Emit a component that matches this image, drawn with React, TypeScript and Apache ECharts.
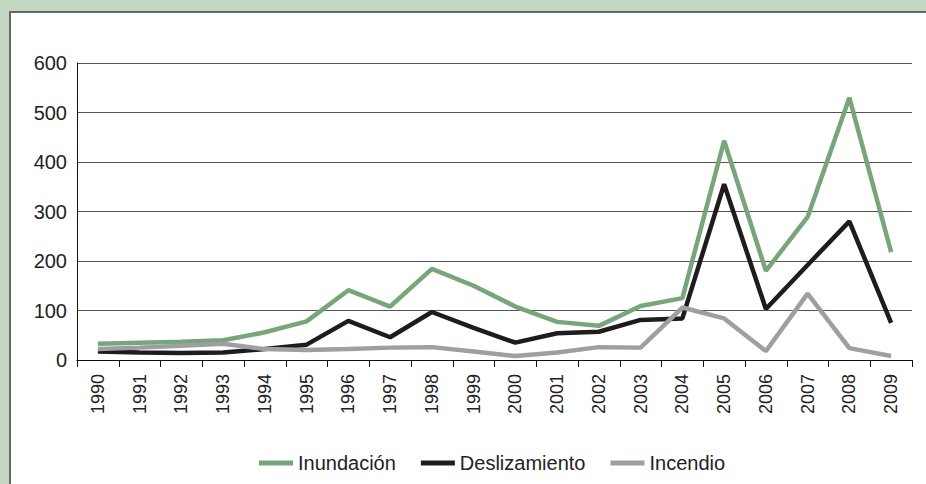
import React, { useEffect, useRef } from "react";
import * as echarts from "echarts";

const years = ["1990","1991","1992","1993","1994","1995","1996","1997","1998","1999","2000","2001","2002","2003","2004","2005","2006","2007","2008","2009"];
const inundacion = [33, 35, 37, 40, 56, 78, 141, 108, 184, 150, 108, 77, 69, 109, 125, 443, 180, 289, 530, 218];
const deslizamiento = [17, 15, 14, 15, 22, 31, 79, 46, 97, 65, 35, 54, 57, 81, 84, 355, 103, 192, 280, 75];
const incendio = [22, 25, 29, 33, 22, 20, 22, 25, 26, 17, 8, 15, 26, 25, 106, 84, 18, 134, 24, 8];
const yTicks = { min: 0, max: 600, interval: 100 };

export default function App() {
  const ref = useRef<HTMLDivElement>(null);
  useEffect(() => {
    document.body.style.margin = "0";
    document.body.style.overflow = "hidden";
    const chart = echarts.init(ref.current!, null, { renderer: "svg" });
    const font = "'Liberation Sans', Arial, sans-serif";
    const border = { stroke: "#666666", lineWidth: 2 };
    chart.setOption({
      animation: false,
      backgroundColor: "#c2d6c2",
      textStyle: { fontFamily: font },
      graphic: {
        elements: [
          { type: "rect", z: -10, silent: true, shape: { x: 10, y: 12, width: 930, height: 480 }, style: { fill: "#ffffff" } },
          { type: "line", z: -9, silent: true, shape: { x1: 10, y1: 11, x2: 10, y2: 490 }, style: border },
          { type: "line", z: -9, silent: true, shape: { x1: 9, y1: 12, x2: 940, y2: 12 }, style: border },
        ],
      },
      grid: { left: 77, right: 14, top: 63, bottom: 124, containLabel: false },
      legend: {
        left: 254,
        top: 448,
        itemWidth: 34,
        itemHeight: 5,
        itemGap: 25,
        icon: "rect",
        textStyle: { fontSize: 20, color: "#222", fontFamily: font },
        data: ["Inundación", "Deslizamiento", "Incendio"],
      },
      xAxis: {
        type: "category",
        data: years,
        boundaryGap: true,
        axisLine: { lineStyle: { color: "#111", width: 1 } },
        axisTick: { show: true, length: 7, lineStyle: { color: "#111" } },
        axisLabel: { rotate: 90, fontSize: 18, color: "#222", margin: 14, fontFamily: font },
      },
      yAxis: {
        type: "value",
        min: yTicks.min,
        max: yTicks.max,
        interval: yTicks.interval,
        axisLine: { show: true, lineStyle: { color: "#111", width: 1 } },
        axisTick: { show: false },
        splitLine: { lineStyle: { color: "#555", width: 1 } },
        axisLabel: { fontSize: 20, color: "#222", margin: 10, fontFamily: font },
      },
      series: [
        { name: "Inundación", type: "line", data: inundacion, symbol: "none", lineStyle: { color: "#78a67b", width: 4.5 }, itemStyle: { color: "#78a67b" } },
        { name: "Deslizamiento", type: "line", data: deslizamiento, symbol: "none", lineStyle: { color: "#1f1c1d", width: 4.5 }, itemStyle: { color: "#1f1c1d" } },
        { name: "Incendio", type: "line", data: incendio, symbol: "none", lineStyle: { color: "#9e9fa3", width: 4.5 }, itemStyle: { color: "#9e9fa3" } },
      ],
    });
    return () => chart.dispose();
  }, []);
  return <div ref={ref} style={{ position: "fixed", left: 0, top: 0, width: 926, height: 484 }} />;
}
